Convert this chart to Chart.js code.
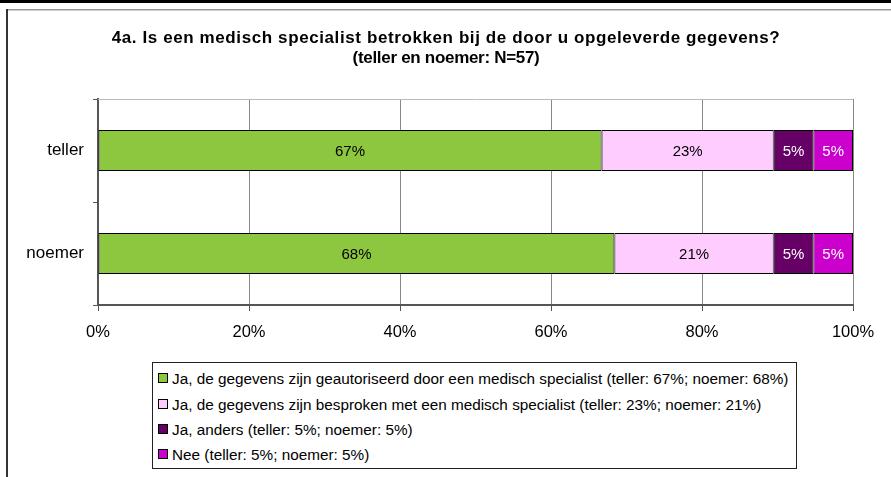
<!DOCTYPE html>
<html>
<head>
<meta charset="utf-8">
<script src="https://cdn.jsdelivr.net/npm/chart.js@4/dist/chart.umd.min.js"></script>
<style>
  html, body { margin: 0; padding: 0; background: #fff; }
  #wrap { position: relative; width: 891px; height: 477px; overflow: hidden; }
  #c { position: absolute; left: 0; top: 0; }
  #legend { position: absolute; left: 152px; top: 362px; width: 645px; height: 107px;
    border: 1px solid #222; box-sizing: border-box; background: #fff;
    font-family: "Liberation Sans", Arial, sans-serif; font-size: 15.3px; color: #000; }
  .li { position: absolute; left: 5px; height: 18px; line-height: 18px; white-space: nowrap; }
  .sw { display: inline-block; width: 8px; height: 8px; border: 1px solid #000; margin-right: 4px; vertical-align: 1px; }
</style>
</head>
<body>
<div id="wrap">
  <canvas id="c" width="891" height="477"></canvas>
  <div id="legend"></div>
</div>
<script>
const titleLines = ["4a. Is een medisch specialist betrokken bij de door u opgeleverde gegevens?", "(teller en noemer: N=57)"];
const categories = ["teller", "noemer"];
const seriesNames = [
  "Ja, de gegevens zijn geautoriseerd door een medisch specialist (teller: 67%; noemer: 68%)",
  "Ja, de gegevens zijn besproken met een medisch specialist (teller: 23%; noemer: 21%)",
  "Ja, anders (teller: 5%; noemer: 5%)",
  "Nee (teller: 5%; noemer: 5%)"
];
const geautoriseerd = [66.7, 68.4];
const besproken = [22.8, 21.1];
const anders = [5.25, 5.25];
const nee = [5.25, 5.25];
const xTicks = [0, 20, 40, 60, 80, 100];
const colors = ["#8DC63F", "#FFCCFF", "#660066", "#CC00CC"];
const labelColors = ["#000", "#000", "#fff", "#fff"];

const seriesValues = [geautoriseerd, besproken, anders, nee];

const FONT = '"Liberation Sans", Arial, sans-serif';

const framePlugin = {
  id: 'frame',
  beforeDraw(chart) {
    const ctx = chart.ctx;
    ctx.save();
    ctx.fillStyle = '#fff';
    ctx.fillRect(0, 0, chart.width, chart.height);
    ctx.fillStyle = '#000';
    ctx.fillRect(0, 0, 891, 3);
    ctx.fillStyle = '#999';
    ctx.fillRect(6, 9, 885, 1.5);
    ctx.fillStyle = '#333';
    ctx.fillRect(6, 9, 2, 468);
    // title
    ctx.fillStyle = '#000';
    ctx.textAlign = 'center';
    ctx.textBaseline = 'middle';
    ctx.font = 'bold 17px ' + FONT;
    ctx.letterSpacing = '0.6px';
    ctx.fillText(titleLines[0], 446, 38);
    ctx.letterSpacing = '-0.3px';
    ctx.fillText(titleLines[1], 446, 58);
    ctx.letterSpacing = '0px';
    ctx.restore();
  },
  beforeDatasetsDraw(chart) {
    const a = chart.chartArea, ctx = chart.ctx;
    ctx.save();
    ctx.strokeStyle = '#bbb';
    ctx.lineWidth = 1;
    ctx.beginPath();
    ctx.moveTo(a.left, a.top + 0.5);
    ctx.lineTo(a.right, a.top + 0.5);
    ctx.stroke();
    ctx.restore();
  }
};

const labelPlugin = {
  id: 'barLabels',
  afterDatasetsDraw(chart) {
    const ctx = chart.ctx;
    ctx.save();
    ctx.font = '15px ' + FONT;
    ctx.textAlign = 'center';
    ctx.textBaseline = 'middle';
    chart.data.datasets.forEach((ds, i) => {
      const meta = chart.getDatasetMeta(i);
      meta.data.forEach((el, j) => {
        const p = el.getCenterPoint();
        ctx.fillStyle = labelColors[i];
        ctx.fillText(Math.round(ds.data[j]) + '%', p.x, p.y + 1);
      });
    });
    ctx.restore();
  }
};

const datasets = seriesValues.map((vals, i) => ({
  label: seriesNames[i],
  data: vals,
  backgroundColor: colors[i],
  borderColor: '#000',
  borderWidth: 1,
  borderSkipped: false,
  categoryPercentage: 1,
  barPercentage: 0.4
}));

new Chart(document.getElementById('c'), {
  type: 'bar',
  data: { labels: categories, datasets },
  plugins: [framePlugin, labelPlugin],
  options: {
    indexAxis: 'y',
    responsive: false,
    animation: false,
    devicePixelRatio: 1,
    layout: { padding: { left: 0, right: 38, top: 99, bottom: 132 } },
    plugins: {
      legend: { display: false },
      tooltip: { enabled: false },
      title: { display: false }
    },
    scales: {
      x: {
        stacked: true,
        min: 0, max: 100,
        afterBuildTicks(scale) { scale.ticks = xTicks.map(v => ({ value: v })); },
        afterFit(scale) { scale.height = 40; },
        ticks: { color: '#000', font: { family: FONT, size: 16.5 }, padding: 12,
          callback: v => v + '%', maxRotation: 0 },
        grid: { color: '#888', lineWidth: 1, tickLength: 6, tickColor: '#555', drawTicks: true },
        border: { display: true, color: '#555', width: 2 }
      },
      y: {
        stacked: true,
        afterFit(scale) { scale.width = 98; },
        ticks: { color: '#000', font: { family: FONT, size: 17 }, padding: 9 },
        grid: { drawOnChartArea: false, tickLength: 5, tickColor: '#555', offset: true },
        border: { display: true, color: '#555', width: 2 }
      }
    }
  }
});

const leg = document.getElementById('legend');
const tops = [7, 33, 58, 83];
seriesNames.forEach((name, i) => {
  const d = document.createElement('div');
  d.className = 'li';
  d.style.top = tops[i] + 'px';
  const s = document.createElement('span');
  s.className = 'sw';
  s.style.background = colors[i];
  d.appendChild(s);
  d.appendChild(document.createTextNode(name));
  leg.appendChild(d);
});
</script>
</body>
</html>
